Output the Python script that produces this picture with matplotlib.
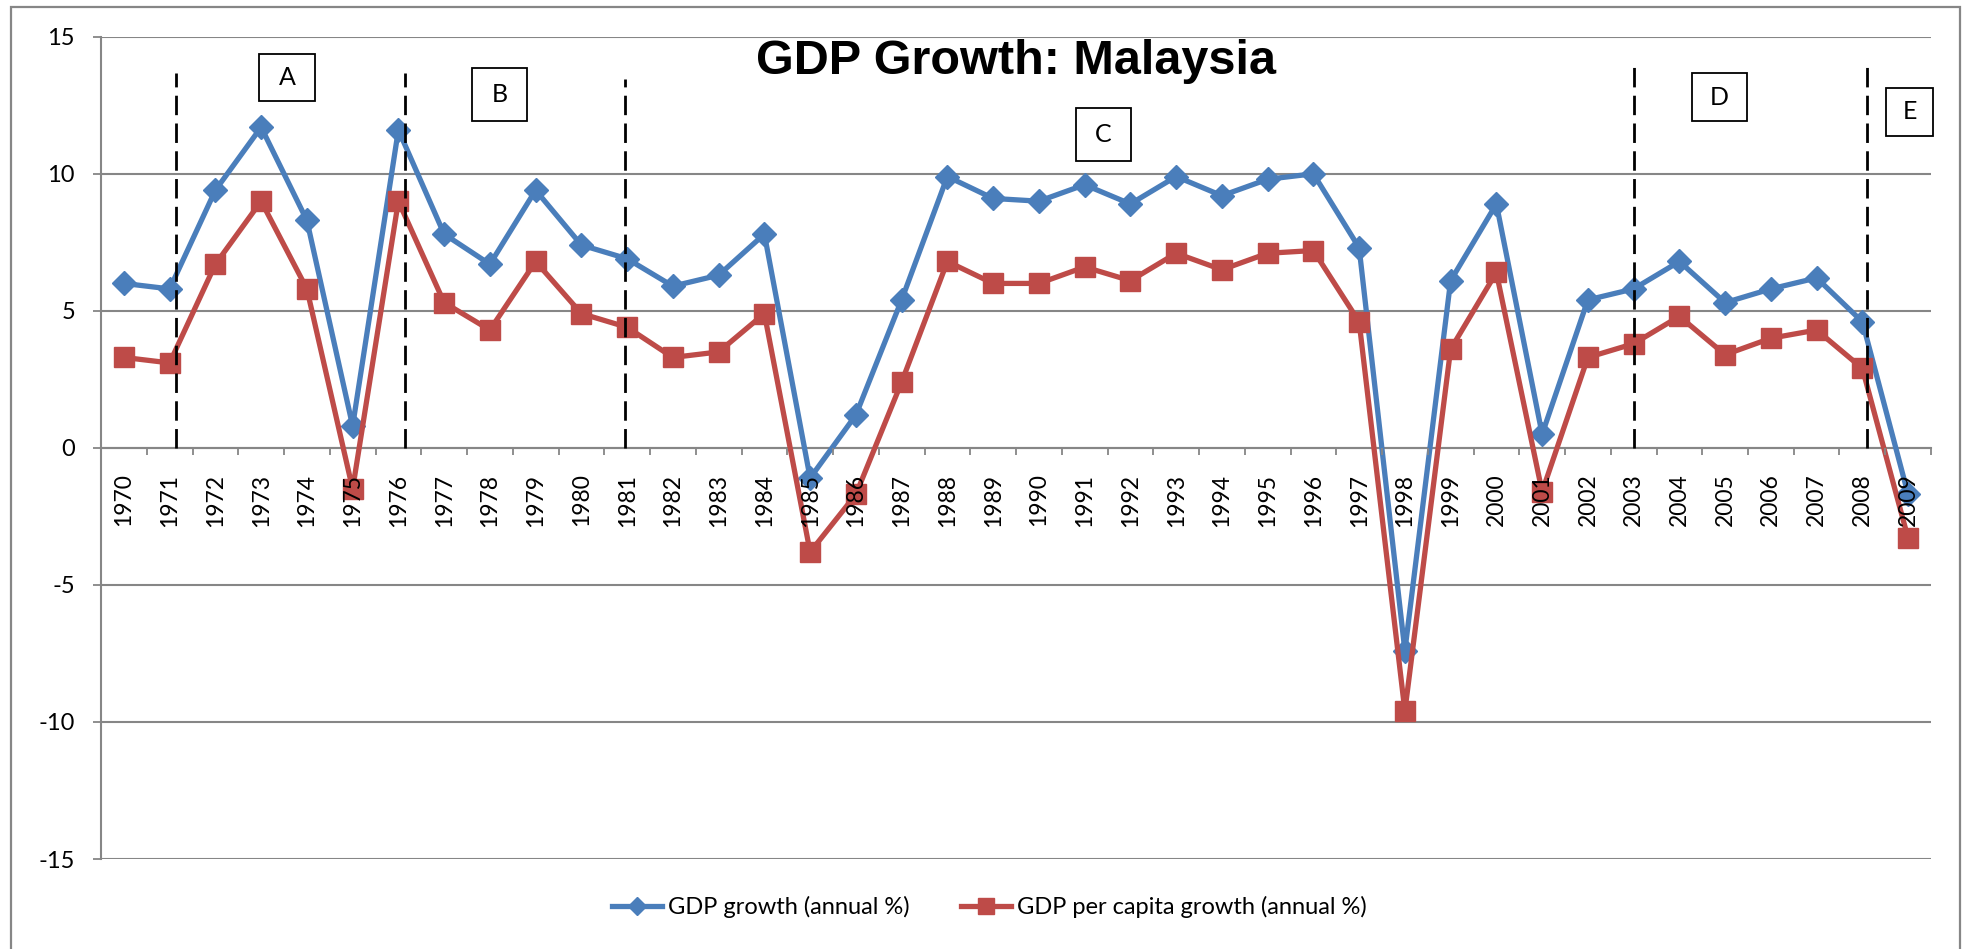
import matplotlib
matplotlib.use("Agg")
import matplotlib.pyplot as plt
from matplotlib.patches import Rectangle
from matplotlib.ticker import FixedLocator, NullFormatter

plt.rcParams["axes.unicode_minus"] = False

years = [str(y) for y in range(1970, 2010)]

gdp_growth = [6.0, 5.8, 9.4, 11.7, 8.3, 0.8, 11.6, 7.8, 6.7, 9.4,
              7.4, 6.9, 5.9, 6.3, 7.8, -1.1, 1.2, 5.4, 9.9, 9.1,
              9.0, 9.6, 8.9, 9.9, 9.2, 9.8, 10.0, 7.3, -7.4, 6.1,
              8.9, 0.5, 5.4, 5.8, 6.8, 5.3, 5.8, 6.2, 4.6, -1.7]

gdp_pc_growth = [3.3, 3.1, 6.7, 9.0, 5.8, -1.5, 9.0, 5.3, 4.3, 6.8,
                 4.9, 4.4, 3.3, 3.5, 4.9, -3.8, -1.7, 2.4, 6.8, 6.0,
                 6.0, 6.6, 6.1, 7.1, 6.5, 7.1, 7.2, 4.6, -9.6, 3.6,
                 6.4, -1.6, 3.3, 3.8, 4.8, 3.4, 4.0, 4.3, 2.9, -3.3]

y_ticks = [-15, -10, -5, 0, 5, 10, 15]

# period separators (category index, top of dashed line)
period_breaks = [(1.14, 13.67), (6.14, 13.67), (10.96, 13.45), (33.0, 14.06), (38.11, 14.06)]
# period labels: letter, x0, x1, y_bottom, y_top (data units)
period_boxes = [
    ("A", 2.95, 4.18, 12.65, 14.37),
    ("B", 7.61, 8.81, 11.92, 13.86),
    ("C", 20.81, 22.01, 10.47, 12.39),
    ("D", 34.27, 35.47, 11.93, 13.66),
    ("E", 38.51, 39.55, 11.39, 13.12),
]

BLUE = "#4A7EBB"
RED = "#BE4B48"
GRID = "#868686"
BODY_FONT = "Lato"

fig = plt.figure(figsize=(19.69, 9.49), dpi=100)
ax = fig.add_axes([0.0513, 0.0948, 0.9294, 0.8665])

# chart area frame
fig.patches.append(Rectangle((11 / 1969, -0.05), (1960 - 11) / 1969, 1 - 7 / 949 + 0.05,
                             transform=fig.transFigure, fill=False,
                             edgecolor=GRID, linewidth=1.6))

x = list(range(len(years)))
ax.plot(x, gdp_growth, color=BLUE, linewidth=3.8, marker="D", markersize=12,
        label="GDP growth (annual %)", zorder=3)
ax.plot(x, gdp_pc_growth, color=RED, linewidth=3.8, marker="s", markersize=14.5,
        label="GDP per capita growth (annual %)", zorder=4)

for bx, top in period_breaks:
    ax.plot([bx, bx], [0, top], color="black", linewidth=2, dashes=(7, 3), zorder=5)

for letter, x0, x1, y0, y1 in period_boxes:
    ax.add_patch(Rectangle((x0, y0), x1 - x0, y1 - y0, facecolor="white",
                           edgecolor="black", linewidth=1.3, zorder=6, clip_on=False))
    ax.text((x0 + x1) / 2, (y0 + y1) / 2, letter, ha="center", va="center",
            fontsize=18, family=BODY_FONT, zorder=7, clip_on=False)

ax.set_xlim(-0.5, len(years) - 0.5)
ax.set_ylim(-15, 15)
ax.set_yticks(y_ticks)
ax.set_yticklabels([str(t) for t in y_ticks], family=BODY_FONT, fontsize=17)
ax.tick_params(axis="y", length=8 * 0.72, width=1.3, color=GRID, pad=13)
ax.yaxis.grid(True, color=GRID, linewidth=1.5)
ax.set_axisbelow(True)

for s in ["top", "right"]:
    ax.spines[s].set_visible(False)
ax.spines["left"].set_color(GRID)
ax.spines["left"].set_linewidth(1.5)
ax.spines["bottom"].set_position(("data", 0))
ax.spines["bottom"].set_color(GRID)
ax.spines["bottom"].set_linewidth(1.5)
ax.spines["bottom"].set_zorder(1)

ax.set_xticks(x)
ax.set_xticklabels(years, rotation=90, family=BODY_FONT, fontsize=16.5, va="top")
ax.tick_params(axis="x", which="major", length=0, pad=18.5)
ax.xaxis.set_minor_locator(FixedLocator([i - 0.5 for i in range(len(years) + 1)]))
ax.xaxis.set_minor_formatter(NullFormatter())
ax.tick_params(axis="x", which="minor", length=7 * 0.72, width=1.3, color=GRID, direction="out")
ax.xaxis.set_zorder(8)

fig.text(0.5158, 1 - 62 / 949, "GDP Growth: Malaysia", ha="center", va="center",
         fontsize=35, fontweight="bold", family="Liberation Sans")

fig.legend(loc="center", bbox_to_anchor=(0.5025, 1 - 907 / 949), ncol=2, frameon=False,
           prop={"family": BODY_FONT, "size": 17}, handlelength=2.1, handletextpad=0.25,
           columnspacing=2.2, markerscale=0.8)

fig.savefig("out.png", dpi=100)
